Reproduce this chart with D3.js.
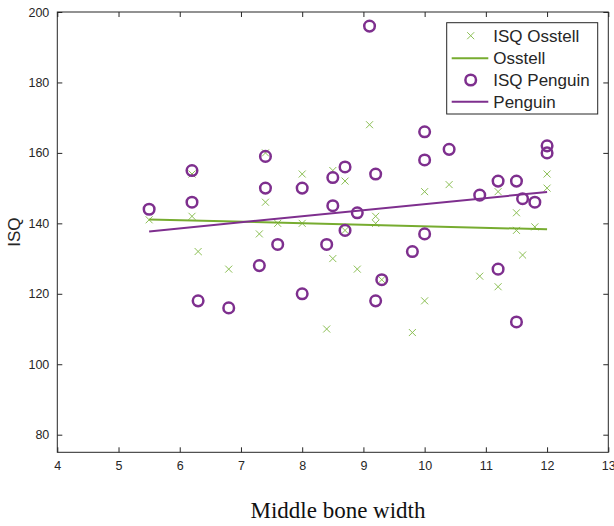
<!DOCTYPE html>
<html>
<head>
<meta charset="utf-8">
<script src="https://cdn.jsdelivr.net/npm/d3@7"></script>
<style>body{margin:0;background:#fff}</style>
</head>
<body>
<svg width="614" height="526"></svg>
<script>

// data
const osstellX   = [5.5, 6.2, 6.2, 6.3, 6.8, 7.3, 7.4, 7.4, 7.6, 8.0, 8.0, 8.4, 8.5, 8.5, 8.7, 8.7, 8.9,
                    9.1, 9.2, 9.2, 9.3, 9.8, 10.0, 10.0, 10.4, 10.9, 11.2, 11.2, 11.5, 11.5, 11.6, 11.8, 12.0, 12.0];
const osstellISQ = [141, 142, 154, 132, 127, 137, 160, 146, 140, 154, 140, 110, 155, 130, 152, 138, 127,
                    168, 142, 140, 124, 109, 149, 118, 151, 125, 149, 122, 143, 138, 131, 139, 154, 150];

const penguinX   = [5.5, 6.2, 6.2, 6.3, 6.8, 7.3, 7.4, 7.4, 7.6, 8.0, 8.0, 8.4, 8.5, 8.5, 8.7, 8.7, 8.9, 9.1,
                    9.2, 9.2, 9.3, 9.8, 10.0, 10.0, 10.0, 10.4, 10.9, 11.2, 11.2, 11.5, 11.5, 11.6, 11.8, 12.0, 12.0];
const penguinISQ = [144, 155, 146, 118, 116, 128, 159, 150, 134, 150, 120, 134, 153, 145, 156, 138, 143, 196,
                    154, 118, 124, 132, 166, 158, 137, 161, 148, 152, 127, 152, 112, 147, 146, 162, 160];

const fitX       = [5.5, 12];
const osstellFit = [141.1, 138.3];
const penguinFit = [137.7, 148.9];

const xTicks = [4, 5, 6, 7, 8, 9, 10, 11, 12, 13];
const yTicks = [80, 100, 120, 140, 160, 180, 200];
const legendLabels = ['ISQ Osstell', 'Osstell', 'ISQ Penguin', 'Penguin'];

const green = '#77AC30';
const crossGreen = '#8cbf55';
const purple = '#7E2F8E';
const axisColor = '#262626';

const svg = d3.select('svg');
const width = +svg.attr('width');
const height = +svg.attr('height');
const margin = {top: 12, right: 5.7, bottom: 73.7, left: 57.3};
const innerW = width - margin.left - margin.right;
const innerH = height - margin.top - margin.bottom;

const g = svg.append('g')
    .attr('transform', `translate(${margin.left}, ${margin.top})`);

const x = d3.scaleLinear().domain([4, 13]).range([0, innerW]);
const y = d3.scaleLinear().domain([75, 200]).range([innerH, 0]);

// axes, MATLAB style: ticks inward on all four sides
const styleAxis = sel => {
    sel.select('.domain').remove();
    sel.selectAll('line').attr('stroke', axisColor);
    sel.selectAll('text')
        .attr('fill', axisColor)
        .style('font-family', '"Liberation Sans", Arial, sans-serif')
        .style('font-size', '12.5px');
};

g.append('g')
    .attr('transform', `translate(0, ${innerH})`)
    .call(d3.axisBottom(x).tickValues(xTicks).tickSizeInner(-5).tickSizeOuter(0).tickPadding(9))
    .call(styleAxis);

g.append('g')
    .call(d3.axisTop(x).tickValues(xTicks).tickSizeInner(-5).tickSizeOuter(0).tickFormat(''))
    .call(styleAxis);

g.append('g')
    .call(d3.axisLeft(y).tickValues(yTicks).tickSizeInner(-5).tickSizeOuter(0).tickPadding(8))
    .call(styleAxis);

g.append('g')
    .attr('transform', `translate(${innerW}, 0)`)
    .call(d3.axisRight(y).tickValues(yTicks).tickSizeInner(-5).tickSizeOuter(0).tickFormat(''))
    .call(styleAxis);

g.append('rect')
    .attr('width', innerW)
    .attr('height', innerH)
    .attr('fill', 'none')
    .attr('stroke', axisColor)
    .attr('stroke-width', 1);

// Osstell crosses
const crossPath = s => `M${-s},${-s}L${s},${s}M${-s},${s}L${s},${-s}`;

g.append('g')
  .selectAll('path')
  .data(osstellX.map((d, i) => [d, osstellISQ[i]]))
  .join('path')
    .attr('transform', d => `translate(${x(d[0])}, ${y(d[1])})`)
    .attr('d', crossPath(3.5))
    .attr('stroke', crossGreen)
    .attr('stroke-width', 1)
    .attr('fill', 'none');

const line = d3.line()
    .x(d => x(d[0]))
    .y(d => y(d[1]));

g.append('path')
    .attr('d', line(fitX.map((d, i) => [d, osstellFit[i]])))
    .attr('stroke', green)
    .attr('stroke-width', 2)
    .attr('fill', 'none');

// Penguin circles
g.append('g')
  .selectAll('circle')
  .data(penguinX.map((d, i) => [d, penguinISQ[i]]))
  .join('circle')
    .attr('cx', d => x(d[0]))
    .attr('cy', d => y(d[1]))
    .attr('r', 5.3)
    .attr('fill', 'none')
    .attr('stroke', purple)
    .attr('stroke-width', 2.5);

g.append('path')
    .attr('d', line(fitX.map((d, i) => [d, penguinFit[i]])))
    .attr('stroke', purple)
    .attr('stroke-width', 2)
    .attr('fill', 'none');

// axis titles
svg.append('text')
    .attr('transform', `translate(20, ${margin.top + innerH / 2}) rotate(-90)`)
    .attr('text-anchor', 'middle')
    .attr('fill', axisColor)
    .style('font-family', '"Liberation Sans", Arial, sans-serif')
    .style('font-size', '17px')
    .text('ISQ');

svg.append('text')
    .attr('x', 338)
    .attr('y', 518)
    .attr('text-anchor', 'middle')
    .attr('fill', '#111')
    .style('font-family', '"Liberation Serif", "Times New Roman", serif')
    .style('font-size', '23px')
    .text('Middle bone width');

// legend
const legend = svg.append('g')
    .attr('transform', 'translate(446.7, 22.7)');

legend.append('rect')
    .attr('width', 151)
    .attr('height', 91.3)
    .attr('fill', '#fff')
    .attr('stroke', axisColor)
    .attr('stroke-width', 1);

const rowY = [13, 35.6, 57.3, 79];
const sampleX = 24;

legend.append('path')
    .attr('transform', `translate(${sampleX}, ${rowY[0]})`)
    .attr('d', crossPath(3.5))
    .attr('stroke', crossGreen)
    .attr('fill', 'none');

legend.append('line')
    .attr('x1', 5).attr('x2', 41.6)
    .attr('y1', rowY[1]).attr('y2', rowY[1])
    .attr('stroke', green)
    .attr('stroke-width', 2);

legend.append('circle')
    .attr('cx', sampleX)
    .attr('cy', rowY[2])
    .attr('r', 5.3)
    .attr('fill', 'none')
    .attr('stroke', purple)
    .attr('stroke-width', 2.5);

legend.append('line')
    .attr('x1', 5).attr('x2', 41.6)
    .attr('y1', rowY[3]).attr('y2', rowY[3])
    .attr('stroke', purple)
    .attr('stroke-width', 2);

legend.selectAll('text.label')
  .data(legendLabels)
  .join('text')
    .attr('class', 'label')
    .attr('x', 46.6)
    .attr('y', (d, i) => rowY[i])
    .attr('dy', '0.35em')
    .attr('fill', axisColor)
    .style('font-family', '"Liberation Sans", Arial, sans-serif')
    .style('font-size', '17px')
    .text(d => d);

</script>
</body>
</html>
